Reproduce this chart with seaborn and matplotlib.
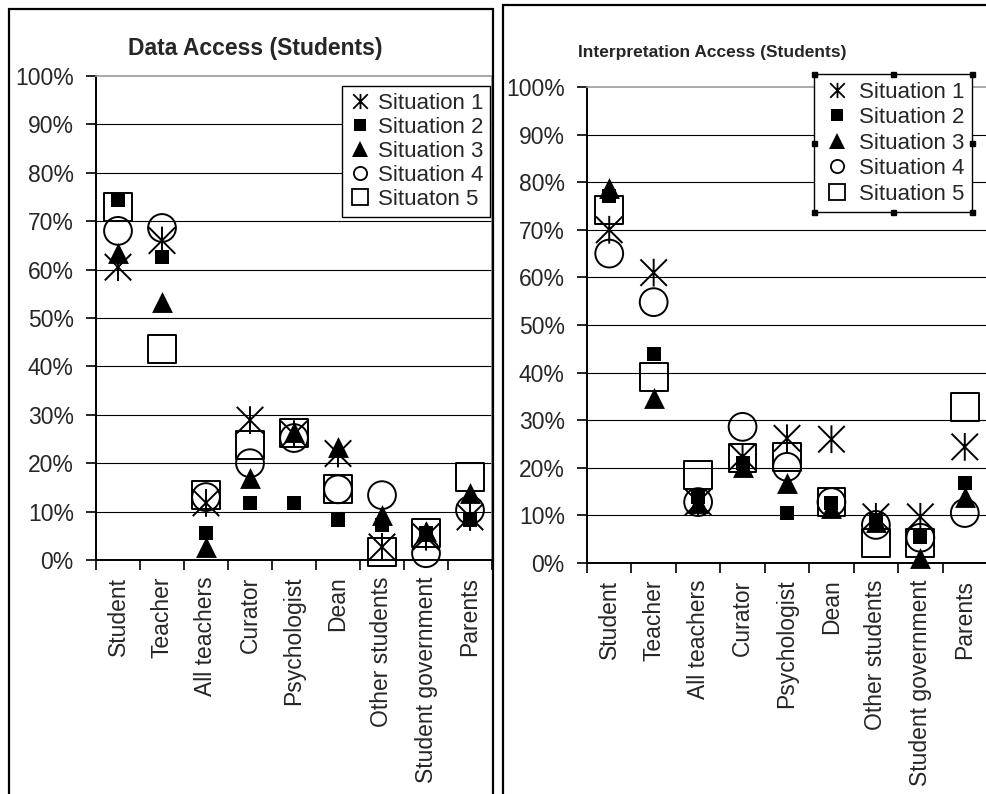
import numpy as np
import pandas as pd
import matplotlib
matplotlib.use("Agg")
import matplotlib.pyplot as plt
from matplotlib.path import Path
from matplotlib.lines import Line2D
from matplotlib.patches import Rectangle
from matplotlib.ticker import PercentFormatter, FixedLocator
import seaborn as sns

# ---- data (percent of students) ----
categories = ["Student", "Teacher", "All teachers", "Curator", "Psychologist",
              "Dean", "Other students", "Student government", "Parents"]

data_s1 = [60.5, 66.0, 11.8, 28.9, 26.0, 22.0, 2.7, 4.8, 8.9]
data_s2 = [74.4, 62.6, 5.6, 11.8, 11.8, 8.3, 7.2, 5.6, 8.3]
data_s3 = [63.4, 53.3, 2.7, 16.9, 26.5, 23.4, 9.3, 6.0, 13.8]
data_s4 = [68.0, 68.6, 13.0, 20.0, 25.2, 14.6, 13.4, 1.4, 10.3]
data_s5 = [72.9, 43.6, 13.4, 23.8, 26.2, 14.6, 1.7, 5.6, 17.1]

interp_s1 = [70.0, 61.0, 12.8, 22.3, 26.2, 26.0, 9.7, 9.7, 24.4]
interp_s2 = [77.0, 44.0, 13.9, 21.0, 10.5, 12.6, 9.0, 5.5, 16.8]
interp_s3 = [78.8, 34.6, 12.6, 20.2, 16.8, 11.5, 8.6, 1.0, 13.9]
interp_s4 = [65.0, 54.8, 12.8, 28.6, 20.2, 12.8, 8.0, 5.3, 10.5]
interp_s5 = [74.2, 39.0, 18.5, 22.0, 22.3, 12.8, 4.2, 4.2, 32.8]

data_labels = ["Situation 1", "Situation 2", "Situation 3", "Situation 4", "Situaton 5"]
interp_labels = ["Situation 1", "Situation 2", "Situation 3", "Situation 4", "Situation 5"]

yticks = [0, 10, 20, 30, 40, 50, 60, 70, 80, 90, 100]

# ---- styling ----
sns.set_style("white")
plt.rcParams["font.family"] = ["Liberation Sans", "DejaVu Sans"]

# asterisk: an X with a vertical bar through it
star = Path([(-1, -1), (1, 1), (-1, 1), (1, -1), (0, -1.05), (0, 1.05)],
            [Path.MOVETO, Path.LINETO, Path.MOVETO, Path.LINETO,
             Path.MOVETO, Path.LINETO])

# marker, filled?, scatter size (pt^2), legend size (pt)
series_style = [
    (star, False, 400, 11),
    ("s", True, 95, 9),
    ("^", True, 225, 12),
    ("o", False, 400, 9.5),
    ("s", False, 400, 11),
]

W, H = 986, 794
fig = plt.figure(figsize=(W / 100, H / 100), dpi=100)


def px_axes(x0, y0, x1, y1):
    return fig.add_axes([x0 / W, 1 - y1 / H, (x1 - x0) / W, (y1 - y0) / H])


def draw_panel(ax, series, labels):
    for i, (vals, (mk, filled, s, _)) in enumerate(zip(series, series_style)):
        df = pd.DataFrame({"who": categories, "pct": vals})
        if filled:
            kw = dict(color="black", edgecolor="black", linewidth=0)
        else:
            kw = dict(facecolor="none", edgecolor="black", linewidth=1.4)
        sns.scatterplot(data=df, x="who", y="pct", marker=mk, s=s, ax=ax,
                        zorder=3 + i, legend=False, clip_on=False, **kw)
    ax.set_xlim(-0.5, len(categories) - 0.5)
    ax.set_ylim(0, 100)
    ax.set_xlabel("")
    ax.set_ylabel("")
    ax.set_yticks(yticks)
    ax.yaxis.set_major_formatter(PercentFormatter(decimals=0))
    ax.set_xticks(range(len(categories)))
    ax.set_xticklabels(categories, rotation=90, va="top", ha="center")
    ax.xaxis.set_minor_locator(FixedLocator(np.arange(-0.5, len(categories), 1.0)))
    ax.tick_params(axis="x", which="major", length=0, pad=12, labelsize=16.5)
    ax.tick_params(axis="x", which="minor", length=7, width=1.2, color="black",
                   direction="out", bottom=True)
    ax.tick_params(axis="y", length=7, width=1.2, color="black", direction="out",
                   pad=9, labelsize=16.5, left=True)
    ax.grid(axis="y", color="black", linewidth=0.8)
    ax.yaxis.get_gridlines()[-1].set_visible(False)
    ax.set_axisbelow(True)
    for side in ("left", "bottom"):
        ax.spines[side].set_color("black")
        ax.spines[side].set_linewidth(1.4)
    for side in ("top", "right"):
        ax.spines[side].set_color("#9a9a9a")
        ax.spines[side].set_linewidth(1.2)

    handles = []
    for mk, filled, _, ms in series_style:
        handles.append(Line2D([], [], ls="none", marker=mk, markersize=ms,
                              markerfacecolor="black" if filled else "none",
                              markeredgecolor="black",
                              markeredgewidth=0 if filled else 1.3))
    return handles, labels


# ---- left panel: data access ----
ax1 = px_axes(96, 76, 492, 560)
h1, l1 = draw_panel(ax1, [data_s1, data_s2, data_s3, data_s4, data_s5], data_labels)
leg1 = ax1.legend(h1, l1, loc="upper right",
                  bbox_to_anchor=(490 / W, 1 - 86 / H), bbox_transform=fig.transFigure,
                  fontsize=16, frameon=True, fancybox=False, framealpha=1,
                  edgecolor="black", borderpad=0.3, labelspacing=0.14,
                  handlelength=1.0, handletextpad=0.3, borderaxespad=0)
leg1.get_frame().set_linewidth(1.0)
fig.text(255 / W, 1 - 48 / H, "Data Access (Students)", ha="center", va="center",
         fontsize=16.5, fontweight="bold")

# ---- right panel: interpretation access ----
ax2 = px_axes(587, 87, 987, 563)
h2, l2 = draw_panel(ax2, [interp_s1, interp_s2, interp_s3, interp_s4, interp_s5],
                    interp_labels)
leg2 = ax2.legend(h2, l2, loc="upper right",
                  bbox_to_anchor=(972 / W, 1 - 74 / H), bbox_transform=fig.transFigure,
                  fontsize=16, frameon=True, fancybox=False, framealpha=1,
                  edgecolor="black", borderpad=0.35, labelspacing=0.2,
                  handlelength=1.3, handletextpad=0.35, borderaxespad=0)
leg2.get_frame().set_linewidth(1.0)
fig.text(712 / W, 1 - 52 / H, "Interpretation Access (Students)", ha="center",
         va="center", fontsize=12.5, fontweight="bold")

# panel frames
fig.add_artist(Rectangle((9 / W, -0.05), (493 - 9) / W, 1.05 - 9 / H,
                         transform=fig.transFigure, fill=False,
                         edgecolor="black", linewidth=1.6))
fig.add_artist(Rectangle((503 / W, -0.05), 0.6, 1.05 - 5 / H,
                         transform=fig.transFigure, fill=False,
                         edgecolor="black", linewidth=1.6))

# selection handles around the right legend
fig.canvas.draw()
bb = leg2.get_window_extent().transformed(fig.transFigure.inverted())
hx = [bb.x0, (bb.x0 + bb.x1) / 2, bb.x1]
hy = [bb.y0, (bb.y0 + bb.y1) / 2, bb.y1]
pts = [(x, y) for x in hx for y in hy if not (x == hx[1] and y == hy[1])]
fig.add_artist(Line2D([p[0] for p in pts], [p[1] for p in pts], ls="none",
                      marker="s", markersize=3.6, markerfacecolor="black",
                      markeredgecolor="black", transform=fig.transFigure))

fig.savefig("out.png", dpi=100)
